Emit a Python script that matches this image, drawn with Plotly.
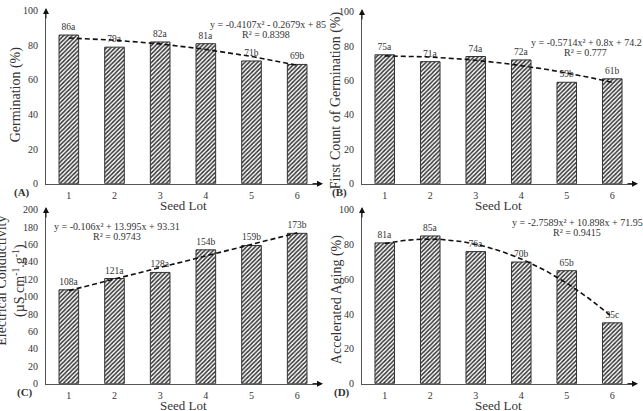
import numpy as np
import plotly.graph_objects as go

# ---------------- data ----------------
lots = [1, 2, 3, 4, 5, 6]

germ_vals = [86, 79, 82, 81, 71, 69]
germ_labels = ["86a", "79a", "82a", "81a", "71b", "69b"]

fcg_vals = [75, 71, 74, 72, 59, 61]
fcg_labels = ["75a", "71a", "74a", "72a", "59b", "61b"]

ec_vals = [108, 121, 128, 154, 159, 173]
ec_labels = ["108a", "121a", "128a", "154b", "159b", "173b"]

aa_vals = [81, 85, 76, 70, 65, 35]
aa_labels = ["81a", "85a", "76a", "70b", "65b", "35c"]

eq_lines = [
    "y = -0.4107x² - 0.2679x + 85",
    "y = -0.5714x² + 0.8x + 74.2",
    "y = -0.106x² + 13.995x + 93.31",
    "y = -2.7589x² + 10.898x + 71.95",
]
r2_lines = ["R² = 0.8398", "R² = 0.777", "R² = 0.9743", "R² = 0.9415"]
y_titles = [
    "Germination (%)",
    "First Count of Germination (%)",
    "Electrical Conductivity<br>(µS cm<sup>-1</sup>.g<sup>-1</sup>)",
    "Accelerated Aging (%)",
]
panel_tags = ["(A)", "(B)", "(C)", "(D)"]
y_ranges = [[0, 100], [0, 100], [0, 200], [0, 100]]
y_dticks = [20, 20, 20, 20]

W, H = 643, 411
FONT = "Liberation Serif"
TXT = "#333333"
BAR = "#333333"

# panel geometry in pixels: (x0, x1, ytop, ybottom)
panels_px = [
    (46, 320, 5, 183),
    (362, 635, 6, 183),
    (46, 320, 210, 389),
    (362, 635, 210, 389),
]

series = [
    (germ_vals, germ_labels),
    (fcg_vals, fcg_labels),
    (ec_vals, ec_labels),
    (aa_vals, aa_labels),
]

fig = go.Figure()
annotations = []

# text centre positions (px)
eq_pos = [(268, 19), (586, 38), (117, 227), (577, 223)]
r2_pos = [(266, 29), (585, 48), (117, 237), (577, 233)]
ytitle_pos = [(16, 91), (336, 97), (11, 283), (337, 303)]
tag_pos = [(22, 192), (339, 192), (25, 398), (342, 398)]
xtitle_pos = [(183, 205), (498, 205), (183, 411), (498, 411)]


def pa(x, y):
    return dict(x=x / W, y=1 - y / H, xref="paper", yref="paper",
                xanchor="center", yanchor="middle")


for i, ((vals, labels), (x0, x1, yt, yb)) in enumerate(zip(series, panels_px)):
    xa = "x" if i == 0 else f"x{i+1}"
    ya = "y" if i == 0 else f"y{i+1}"
    xl = "xaxis" if i == 0 else f"xaxis{i+1}"
    yl = "yaxis" if i == 0 else f"yaxis{i+1}"

    fig.add_trace(go.Bar(
        x=lots, y=vals, xaxis=xa, yaxis=ya, width=0.43,
        marker=dict(color="white", line=dict(color=BAR, width=1),
                    pattern=dict(shape="/", fgcolor=BAR, bgcolor="white",
                                 size=3, solidity=0.5, fillmode="replace")),
        text=labels, textposition="outside", constraintext="none",
        textfont=dict(family=FONT, size=9.5, color=TXT),
        cliponaxis=False, showlegend=False, hoverinfo="skip",
    ))

    coef = np.polyfit(lots, vals, 2)
    xf = np.linspace(lots[0], lots[-1], 120)
    fig.add_trace(go.Scatter(
        x=xf, y=np.polyval(coef, xf), xaxis=xa, yaxis=ya, mode="lines",
        line=dict(color="#111111", width=1.6, dash="5px,3px"),
        showlegend=False, hoverinfo="skip",
    ))

    fig.layout[xl] = dict(
        domain=[x0 / W, x1 / W], range=[0.5, 6.5], anchor=ya,
        tickvals=lots, ticktext=[str(v) for v in lots],
        showline=True, linecolor="#555555", linewidth=1, showgrid=False,
        zeroline=False, ticks="outside", ticklen=2, tickcolor="rgba(0,0,0,0)",
        tickfont=dict(family=FONT, size=10, color=TXT), fixedrange=True,
    )
    fig.layout[yl] = dict(
        domain=[1 - yb / H, 1 - yt / H], range=y_ranges[i], anchor=xa,
        dtick=y_dticks[i], showline=True, linecolor="#555555", linewidth=1,
        showgrid=False, zeroline=False, ticks="outside", ticklen=5,
        tickcolor="rgba(0,0,0,0)",
        tickfont=dict(family=FONT, size=10, color=TXT), fixedrange=True,
    )

    # axis arrows
    annotations.append(dict(x=x0 / W, y=1 - (yt - 3) / H, xref="paper", yref="paper",
                            ax=0, ay=12, axref="pixel", ayref="pixel", text="",
                            showarrow=True, arrowhead=2, arrowsize=1.2,
                            arrowwidth=1, arrowcolor="#111111"))
    annotations.append(dict(x=(x1 + 3) / W, y=1 - yb / H, xref="paper", yref="paper",
                            ax=-12, ay=0, axref="pixel", ayref="pixel", text="",
                            showarrow=True, arrowhead=2, arrowsize=1.2,
                            arrowwidth=1, arrowcolor="#111111"))

    ex, ey = eq_pos[i]
    annotations.append(dict(**pa(ex, ey), text=eq_lines[i], showarrow=False,
                            font=dict(family=FONT, size=10, color=TXT)))
    rx, ry = r2_pos[i]
    annotations.append(dict(**pa(rx, ry), text=r2_lines[i], showarrow=False,
                            font=dict(family=FONT, size=10, color=TXT)))
    tx, ty = ytitle_pos[i]
    annotations.append(dict(**pa(tx, ty), text=y_titles[i], showarrow=False,
                            textangle=-90,
                            font=dict(family=FONT, size=14, color=TXT)))
    px, py = tag_pos[i]
    annotations.append(dict(**pa(px, py), text="<b>" + panel_tags[i] + "</b>",
                            showarrow=False,
                            font=dict(family=FONT, size=11, color=TXT)))
    sx, sy = xtitle_pos[i]
    annotations.append(dict(**pa(sx, sy), text="Seed Lot", showarrow=False,
                            font=dict(family=FONT, size=13, color=TXT)))

fig.update_layout(
    width=W, height=H, margin=dict(l=0, r=0, t=0, b=0),
    paper_bgcolor="white", plot_bgcolor="white",
    annotations=annotations,
    font=dict(family=FONT, color=TXT),
)

fig.write_html("out.html", config={"displayModeBar": False})
